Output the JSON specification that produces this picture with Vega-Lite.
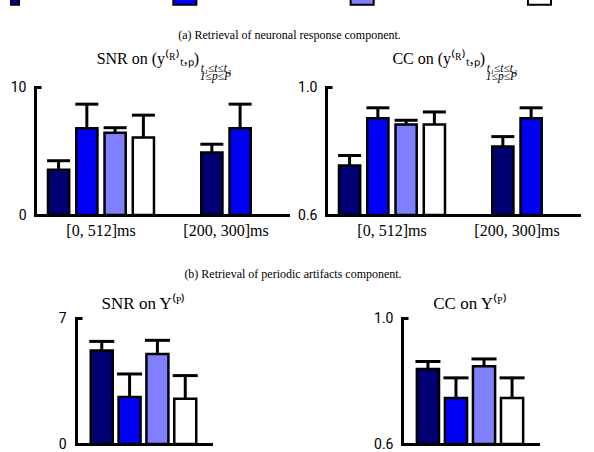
{
  "$schema": "https://vega.github.io/schema/vega-lite/v6.json",
  "background": "white",
  "padding": 0,
  "datasets": {
    "keys": [
      {"method": "Method 1"},
      {"method": "Method 2"},
      {"method": "Method 3"},
      {"method": "Method 4"}
    ],
    "snrR": [
      {"group": "[0, 512]ms", "method": "Method 1", "value": 3.54, "upper": 4.24},
      {"group": "[0, 512]ms", "method": "Method 2", "value": 6.77, "upper": 8.66},
      {"group": "[0, 512]ms", "method": "Method 3", "value": 6.43, "upper": 6.82},
      {"group": "[0, 512]ms", "method": "Method 4", "value": 6.05, "upper": 7.8},
      {"group": "[200, 300]ms", "method": "Method 1", "value": 4.88, "upper": 5.53},
      {"group": "[200, 300]ms", "method": "Method 2", "value": 6.77, "upper": 8.66}
    ],
    "ccR": [
      {"group": "[0, 512]ms", "method": "Method 1", "value": 0.755, "upper": 0.786},
      {"group": "[0, 512]ms", "method": "Method 2", "value": 0.902, "upper": 0.935},
      {"group": "[0, 512]ms", "method": "Method 3", "value": 0.883, "upper": 0.896},
      {"group": "[0, 512]ms", "method": "Method 4", "value": 0.883, "upper": 0.922},
      {"group": "[200, 300]ms", "method": "Method 1", "value": 0.814, "upper": 0.845},
      {"group": "[200, 300]ms", "method": "Method 2", "value": 0.902, "upper": 0.935}
    ],
    "snrP": [
      {"method": "Method 1", "value": 5.19, "upper": 5.7},
      {"method": "Method 2", "value": 2.61, "upper": 3.89},
      {"method": "Method 3", "value": 5.0, "upper": 5.76},
      {"method": "Method 4", "value": 2.52, "upper": 3.8}
    ],
    "ccP": [
      {"method": "Method 1", "value": 0.838, "upper": 0.862},
      {"method": "Method 2", "value": 0.746, "upper": 0.81},
      {"method": "Method 3", "value": 0.847, "upper": 0.87},
      {"method": "Method 4", "value": 0.746, "upper": 0.81}
    ]
  },
  "spacing": 22,
  "center": true,
  "resolve": {"scale": {"color": "shared"}},
  "vconcat": [
    {
      "width": 594,
      "height": 6,
      "view": {"fill": "white", "stroke": null},
      "data": {"name": "keys"},
      "mark": {"type": "bar", "clip": true, "stroke": "black", "strokeWidth": 2},
      "encoding": {
        "x": {"field": "method", "type": "nominal", "scale": {"range": [-14, 541], "paddingInner": 0.87, "paddingOuter": 0}, "axis": null},
        "y": {"datum": 0.2, "type": "quantitative", "scale": {"domain": [0, 1]}, "axis": null},
        "y2": {"datum": 3},
        "color": {"field": "method", "type": "nominal", "scale": {"domain": ["Method 1", "Method 2", "Method 3", "Method 4"], "range": ["#000073", "#0000f5", "#8080ff", "#ffffff"]}, "legend": null}
      }
    },
    {
      "spacing": 30,
      "center": true,
      "vconcat": [
        {
          "title": {"text": "(a) Retrieval of neuronal response component.", "fontSize": 12, "anchor": "middle", "offset": 9},
          "spacing": 9,
          "hconcat": [
            {
              "width": 253,
              "height": 128,
              "title": {"text": "SNR on (y⁽ᴿ⁾ₜ,ₚ)\u00a0\u00a0\u00a0\u00a0\u00a0\u00a0\u00a0\u00a0\u200b", "subtitle": ["t₁≤t≤t₂", "1≤p≤P"], "anchor": "end", "frame": "group", "dx": -57, "fontSize": 16, "subtitleFont": "Liberation Serif", "subtitleFontSize": 11.5, "subtitleFontStyle": "italic", "subtitleColor": "black", "subtitlePadding": -4, "subtitleLineHeight": 8, "offset": -2},
              "resolve": {"scale": {"xOffset": "independent"}},
              "layer": [
                {
                  "data": {"name": "snrR"},
                  "transform": [{"filter": "datum.group === '[0, 512]ms'"}],
                  "encoding": {
                    "x": {"field": "group", "type": "nominal", "scale": {"domain": ["[0, 512]ms", "[200, 300]ms"], "paddingInner": 0.152, "paddingOuter": 0.088, "align": 0.59}, "axis": {"title": null, "ticks": false, "labelAngle": 0, "labelFont": "Liberation Serif", "labelFontSize": 16, "labelPadding": 7, "domainCap": "square"}},
                    "xOffset": {"field": "method", "type": "nominal", "scale": {"domain": ["Method 1", "Method 2", "Method 3", "Method 4"], "paddingInner": 0.25, "paddingOuter": 0}}
                  },
                  "layer": [
                    {
                      "mark": {"type": "bar", "stroke": "black", "strokeWidth": 2.5},
                      "encoding": {
                        "y": {"field": "value", "type": "quantitative", "scale": {"domain": [0, 10], "nice": false}, "axis": {"title": null, "values": [0, 10], "tickSize": -6, "labelPadding": 15, "minExtent": 35, "domainCap": "square", "labelFont": "Roboto", "labelFontSize": 14}},
                        "y2": {"datum": 0},
                        "color": {"field": "method", "type": "nominal", "scale": {"domain": ["Method 1", "Method 2", "Method 3", "Method 4"], "range": ["#000073", "#0000f5", "#8080ff", "#ffffff"]}, "legend": null}
                      }
                    },
                    {
                      "mark": {"type": "rule", "color": "black", "strokeWidth": 3},
                      "encoding": {
                        "y": {"field": "value", "type": "quantitative", "scale": {"domain": [0, 10], "nice": false}, "axis": {"title": null, "values": [0, 10], "tickSize": -6, "labelPadding": 15, "minExtent": 35, "domainCap": "square", "labelFont": "Roboto", "labelFontSize": 14}},
                        "y2": {"field": "upper"}
                      }
                    },
                    {
                      "mark": {"type": "tick", "color": "black", "thickness": 3, "size": 23, "opacity": 1},
                      "encoding": {
                        "y": {"field": "upper", "type": "quantitative", "scale": {"domain": [0, 10], "nice": false}, "axis": {"title": null, "values": [0, 10], "tickSize": -6, "labelPadding": 15, "minExtent": 35, "domainCap": "square", "labelFont": "Roboto", "labelFontSize": 14}}
                      }
                    }
                  ]
                },
                {
                  "data": {"name": "snrR"},
                  "transform": [{"filter": "datum.group === '[200, 300]ms'"}],
                  "encoding": {
                    "x": {"field": "group", "type": "nominal", "scale": {"domain": ["[0, 512]ms", "[200, 300]ms"], "paddingInner": 0.152, "paddingOuter": 0.088, "align": 0.59}, "axis": {"title": null, "ticks": false, "labelAngle": 0, "labelFont": "Liberation Serif", "labelFontSize": 16, "labelPadding": 7, "domainCap": "square"}},
                    "xOffset": {"field": "method", "type": "nominal", "scale": {"domain": ["Method 1", "Method 2"], "paddingInner": 0.25, "paddingOuter": 1}}
                  },
                  "layer": [
                    {
                      "mark": {"type": "bar", "stroke": "black", "strokeWidth": 2.5},
                      "encoding": {
                        "y": {"field": "value", "type": "quantitative", "scale": {"domain": [0, 10], "nice": false}, "axis": {"title": null, "values": [0, 10], "tickSize": -6, "labelPadding": 15, "minExtent": 35, "domainCap": "square", "labelFont": "Roboto", "labelFontSize": 14}},
                        "y2": {"datum": 0},
                        "color": {"field": "method", "type": "nominal", "scale": {"domain": ["Method 1", "Method 2", "Method 3", "Method 4"], "range": ["#000073", "#0000f5", "#8080ff", "#ffffff"]}, "legend": null}
                      }
                    },
                    {
                      "mark": {"type": "rule", "color": "black", "strokeWidth": 3},
                      "encoding": {
                        "y": {"field": "value", "type": "quantitative", "scale": {"domain": [0, 10], "nice": false}, "axis": {"title": null, "values": [0, 10], "tickSize": -6, "labelPadding": 15, "minExtent": 35, "domainCap": "square", "labelFont": "Roboto", "labelFontSize": 14}},
                        "y2": {"field": "upper"}
                      }
                    },
                    {
                      "mark": {"type": "tick", "color": "black", "thickness": 3, "size": 23, "opacity": 1},
                      "encoding": {
                        "y": {"field": "upper", "type": "quantitative", "scale": {"domain": [0, 10], "nice": false}, "axis": {"title": null, "values": [0, 10], "tickSize": -6, "labelPadding": 15, "minExtent": 35, "domainCap": "square", "labelFont": "Roboto", "labelFontSize": 14}}
                      }
                    }
                  ]
                }
              ]
            },
            {
              "width": 253,
              "height": 128,
              "title": {"text": "CC on (y⁽ᴿ⁾ₜ,ₚ)\u00a0\u00a0\u00a0\u00a0\u00a0\u00a0\u00a0\u00a0\u200b", "subtitle": ["t₁≤t≤t₂", "1≤p≤P"], "anchor": "end", "frame": "group", "dx": -62, "fontSize": 16, "subtitleFont": "Liberation Serif", "subtitleFontSize": 11.5, "subtitleFontStyle": "italic", "subtitleColor": "black", "subtitlePadding": -4, "subtitleLineHeight": 8, "offset": -2},
              "resolve": {"scale": {"xOffset": "independent"}},
              "layer": [
                {
                  "data": {"name": "ccR"},
                  "transform": [{"filter": "datum.group === '[0, 512]ms'"}],
                  "encoding": {
                    "x": {"field": "group", "type": "nominal", "scale": {"domain": ["[0, 512]ms", "[200, 300]ms"], "paddingInner": 0.152, "paddingOuter": 0.088, "align": 0.59}, "axis": {"title": null, "ticks": false, "labelAngle": 0, "labelFont": "Liberation Serif", "labelFontSize": 16, "labelPadding": 7, "domainCap": "square"}},
                    "xOffset": {"field": "method", "type": "nominal", "scale": {"domain": ["Method 1", "Method 2", "Method 3", "Method 4"], "paddingInner": 0.25, "paddingOuter": 0}}
                  },
                  "layer": [
                    {
                      "mark": {"type": "bar", "stroke": "black", "strokeWidth": 2.5},
                      "encoding": {
                        "y": {"field": "value", "type": "quantitative", "scale": {"domain": [0.6, 1.0], "nice": false, "zero": false}, "axis": {"title": null, "values": [0.6, 1.0], "format": ".1f", "tickSize": -6, "labelPadding": 15, "domainCap": "square", "labelFont": "Roboto", "labelFontSize": 14}},
                        "y2": {"datum": 0.6},
                        "color": {"field": "method", "type": "nominal", "scale": {"domain": ["Method 1", "Method 2", "Method 3", "Method 4"], "range": ["#000073", "#0000f5", "#8080ff", "#ffffff"]}, "legend": null}
                      }
                    },
                    {
                      "mark": {"type": "rule", "color": "black", "strokeWidth": 3},
                      "encoding": {
                        "y": {"field": "value", "type": "quantitative", "scale": {"domain": [0.6, 1.0], "nice": false, "zero": false}, "axis": {"title": null, "values": [0.6, 1.0], "format": ".1f", "tickSize": -6, "labelPadding": 15, "domainCap": "square", "labelFont": "Roboto", "labelFontSize": 14}},
                        "y2": {"field": "upper"}
                      }
                    },
                    {
                      "mark": {"type": "tick", "color": "black", "thickness": 3, "size": 23, "opacity": 1},
                      "encoding": {
                        "y": {"field": "upper", "type": "quantitative", "scale": {"domain": [0.6, 1.0], "nice": false, "zero": false}, "axis": {"title": null, "values": [0.6, 1.0], "format": ".1f", "tickSize": -6, "labelPadding": 15, "domainCap": "square", "labelFont": "Roboto", "labelFontSize": 14}}
                      }
                    }
                  ]
                },
                {
                  "data": {"name": "ccR"},
                  "transform": [{"filter": "datum.group === '[200, 300]ms'"}],
                  "encoding": {
                    "x": {"field": "group", "type": "nominal", "scale": {"domain": ["[0, 512]ms", "[200, 300]ms"], "paddingInner": 0.152, "paddingOuter": 0.088, "align": 0.59}, "axis": {"title": null, "ticks": false, "labelAngle": 0, "labelFont": "Liberation Serif", "labelFontSize": 16, "labelPadding": 7, "domainCap": "square"}},
                    "xOffset": {"field": "method", "type": "nominal", "scale": {"domain": ["Method 1", "Method 2"], "paddingInner": 0.25, "paddingOuter": 1}}
                  },
                  "layer": [
                    {
                      "mark": {"type": "bar", "stroke": "black", "strokeWidth": 2.5},
                      "encoding": {
                        "y": {"field": "value", "type": "quantitative", "scale": {"domain": [0.6, 1.0], "nice": false, "zero": false}, "axis": {"title": null, "values": [0.6, 1.0], "format": ".1f", "tickSize": -6, "labelPadding": 15, "domainCap": "square", "labelFont": "Roboto", "labelFontSize": 14}},
                        "y2": {"datum": 0.6},
                        "color": {"field": "method", "type": "nominal", "scale": {"domain": ["Method 1", "Method 2", "Method 3", "Method 4"], "range": ["#000073", "#0000f5", "#8080ff", "#ffffff"]}, "legend": null}
                      }
                    },
                    {
                      "mark": {"type": "rule", "color": "black", "strokeWidth": 3},
                      "encoding": {
                        "y": {"field": "value", "type": "quantitative", "scale": {"domain": [0.6, 1.0], "nice": false, "zero": false}, "axis": {"title": null, "values": [0.6, 1.0], "format": ".1f", "tickSize": -6, "labelPadding": 15, "domainCap": "square", "labelFont": "Roboto", "labelFontSize": 14}},
                        "y2": {"field": "upper"}
                      }
                    },
                    {
                      "mark": {"type": "tick", "color": "black", "thickness": 3, "size": 23, "opacity": 1},
                      "encoding": {
                        "y": {"field": "upper", "type": "quantitative", "scale": {"domain": [0.6, 1.0], "nice": false, "zero": false}, "axis": {"title": null, "values": [0.6, 1.0], "format": ".1f", "tickSize": -6, "labelPadding": 15, "domainCap": "square", "labelFont": "Roboto", "labelFontSize": 14}}
                      }
                    }
                  ]
                }
              ]
            }
          ]
        },
        {
          "title": {"text": "(b) Retrieval of periodic artifacts component.", "fontSize": 12, "anchor": "middle", "offset": 14},
          "spacing": 162,
          "hconcat": [
            {
              "width": 135,
              "height": 126,
              "title": {"text": "SNR on Y⁽ᴾ⁾", "fontSize": 17, "anchor": "middle", "frame": "group", "offset": -2},
              "data": {"name": "snrP"},
              "encoding": {
                "x": {"field": "method", "type": "nominal", "scale": {"domain": ["Method 1", "Method 2", "Method 3", "Method 4"], "paddingInner": 0.21, "paddingOuter": 0.53}, "axis": {"title": null, "labels": false, "ticks": false, "domainCap": "square"}}
              },
              "layer": [
                {
                  "mark": {"type": "bar", "stroke": "black", "strokeWidth": 2.5},
                  "encoding": {
                    "y": {"field": "value", "type": "quantitative", "scale": {"domain": [0, 7], "nice": false}, "axis": {"title": null, "values": [0, 7], "tickSize": -6, "labelPadding": 16, "minExtent": 28, "domainCap": "square", "labelFont": "Roboto", "labelFontSize": 14}},
                    "y2": {"datum": 0},
                    "color": {"field": "method", "type": "nominal", "scale": {"domain": ["Method 1", "Method 2", "Method 3", "Method 4"], "range": ["#000073", "#0000f5", "#8080ff", "#ffffff"]}, "legend": null}
                  }
                },
                {
                  "mark": {"type": "rule", "color": "black", "strokeWidth": 3},
                  "encoding": {
                    "y": {"field": "value", "type": "quantitative", "scale": {"domain": [0, 7], "nice": false}, "axis": {"title": null, "values": [0, 7], "tickSize": -6, "labelPadding": 16, "minExtent": 28, "domainCap": "square", "labelFont": "Roboto", "labelFontSize": 14}},
                    "y2": {"field": "upper"}
                  }
                },
                {
                  "mark": {"type": "tick", "color": "black", "thickness": 3, "size": 25, "opacity": 1},
                  "encoding": {
                    "y": {"field": "upper", "type": "quantitative", "scale": {"domain": [0, 7], "nice": false}, "axis": {"title": null, "values": [0, 7], "tickSize": -6, "labelPadding": 16, "minExtent": 28, "domainCap": "square", "labelFont": "Roboto", "labelFontSize": 14}}
                  }
                }
              ]
            },
            {
              "width": 136,
              "height": 126,
              "title": {"text": "CC on Y⁽ᴾ⁾", "fontSize": 17, "anchor": "middle", "frame": "group", "offset": -2},
              "data": {"name": "ccP"},
              "encoding": {
                "x": {"field": "method", "type": "nominal", "scale": {"domain": ["Method 1", "Method 2", "Method 3", "Method 4"], "paddingInner": 0.21, "paddingOuter": 0.53}, "axis": {"title": null, "labels": false, "ticks": false, "domainCap": "square"}}
              },
              "layer": [
                {
                  "mark": {"type": "bar", "stroke": "black", "strokeWidth": 2.5},
                  "encoding": {
                    "y": {"field": "value", "type": "quantitative", "scale": {"domain": [0.6, 1.0], "nice": false, "zero": false}, "axis": {"title": null, "values": [0.6, 1.0], "format": ".1f", "tickSize": -6, "labelPadding": 15, "domainCap": "square", "labelFont": "Roboto", "labelFontSize": 14}},
                    "y2": {"datum": 0.6},
                    "color": {"field": "method", "type": "nominal", "scale": {"domain": ["Method 1", "Method 2", "Method 3", "Method 4"], "range": ["#000073", "#0000f5", "#8080ff", "#ffffff"]}, "legend": null}
                  }
                },
                {
                  "mark": {"type": "rule", "color": "black", "strokeWidth": 3},
                  "encoding": {
                    "y": {"field": "value", "type": "quantitative", "scale": {"domain": [0.6, 1.0], "nice": false, "zero": false}, "axis": {"title": null, "values": [0.6, 1.0], "format": ".1f", "tickSize": -6, "labelPadding": 15, "domainCap": "square", "labelFont": "Roboto", "labelFontSize": 14}},
                    "y2": {"field": "upper"}
                  }
                },
                {
                  "mark": {"type": "tick", "color": "black", "thickness": 3, "size": 25, "opacity": 1},
                  "encoding": {
                    "y": {"field": "upper", "type": "quantitative", "scale": {"domain": [0.6, 1.0], "nice": false, "zero": false}, "axis": {"title": null, "values": [0.6, 1.0], "format": ".1f", "tickSize": -6, "labelPadding": 15, "domainCap": "square", "labelFont": "Roboto", "labelFontSize": 14}}
                  }
                }
              ]
            }
          ]
        }
      ]
    }
  ],
  "config": {
    "view": {"stroke": null},
    "font": "Liberation Serif",
    "axis": {"domainColor": "black", "domainWidth": 3, "tickColor": "black", "tickWidth": 3, "grid": false, "labelColor": "black"},
    "title": {"font": "Liberation Serif", "fontWeight": "normal", "color": "black", "subtitleColor": "black"}
  }
}
